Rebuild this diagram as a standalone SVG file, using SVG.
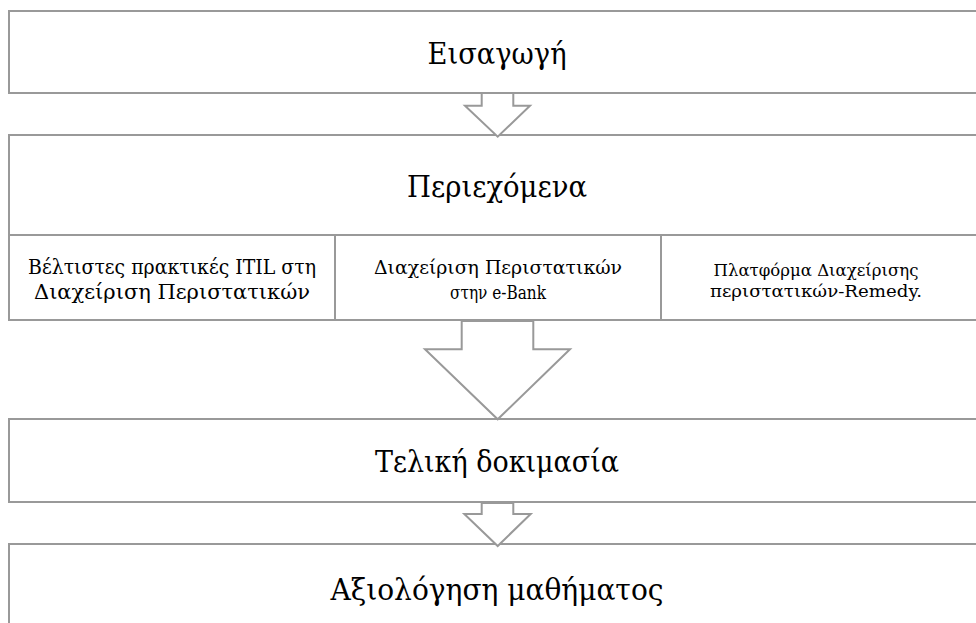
<svg xmlns="http://www.w3.org/2000/svg" width="976" height="623" viewBox="0 0 976 623">
<style>
.box{fill:#fff;stroke:#999;stroke-width:2}
.arr{fill:#fff;stroke:#999;stroke-width:2;stroke-linejoin:miter}
text{font-family:"DejaVu Serif","Liberation Serif",serif;fill:#000;text-anchor:middle}
.big{font-size:29px}
.sub{font-size:20px}
.mid{font-size:19px}
.sm{font-size:16px}
</style>
<rect width="976" height="623" fill="#fff"/>
<g id="n1">
<rect class="box" x="9" y="11" width="980" height="82"/>
<text class="big" x="497" y="64" textLength="139" lengthAdjust="spacingAndGlyphs">Εισαγωγή</text>
</g>
<g id="n2">
<rect class="box" x="9" y="135" width="980" height="185"/>
<line class="box" x1="9" y1="235" x2="989" y2="235"/>
<text class="big" x="497" y="197" textLength="180" lengthAdjust="spacingAndGlyphs">Περιεχόμενα</text>
</g>
<g id="n2a">
<line class="box" x1="335" y1="235" x2="335" y2="320"/>
<text class="sub" x="172" y="274" textLength="288" lengthAdjust="spacingAndGlyphs">Βέλτιστες πρακτικές ITIL στη</text>
<text class="sub" x="172" y="299" textLength="276" lengthAdjust="spacingAndGlyphs">Διαχείριση Περιστατικών</text>
</g>
<g id="n2b">
<line class="box" x1="661" y1="235" x2="661" y2="320"/>
<text class="mid" x="498" y="274" textLength="248" lengthAdjust="spacingAndGlyphs">Διαχείριση Περιστατικών</text>
<text class="mid" x="498" y="299" textLength="96" lengthAdjust="spacingAndGlyphs">στην e-Bank</text>
</g>
<g id="n2c">
<text class="sm" x="816" y="276" textLength="205" lengthAdjust="spacingAndGlyphs">Πλατφόρμα Διαχείρισης</text>
<text class="sm" x="816" y="297" textLength="212" lengthAdjust="spacingAndGlyphs">περιστατικών-Remedy.</text>
</g>
<g id="n3">
<rect class="box" x="9" y="419" width="980" height="83"/>
<text class="big" x="497" y="472" textLength="244" lengthAdjust="spacingAndGlyphs">Τελική δοκιμασία</text>
</g>
<g id="n4">
<rect class="box" x="9" y="544" width="980" height="100"/>
<text class="big" x="497" y="600" textLength="333" lengthAdjust="spacingAndGlyphs">Αξιολόγηση μαθήματος</text>
</g>
<g id="connectors">
<polygon class="arr" points="481.7,93 513.3,93 513.3,105.7 530,105.7 497.7,136.7 465,105.7 481.7,105.7"/>
<polygon class="arr" points="461.7,321 533.3,321 533.3,349.3 570,349.3 497.7,419.3 425,349.3 461.7,349.3"/>
<polygon class="arr" points="481.7,503 513.3,503 513.3,514 530.7,514 497.7,546 464.3,514 481.7,514"/>
</g>
</svg>
